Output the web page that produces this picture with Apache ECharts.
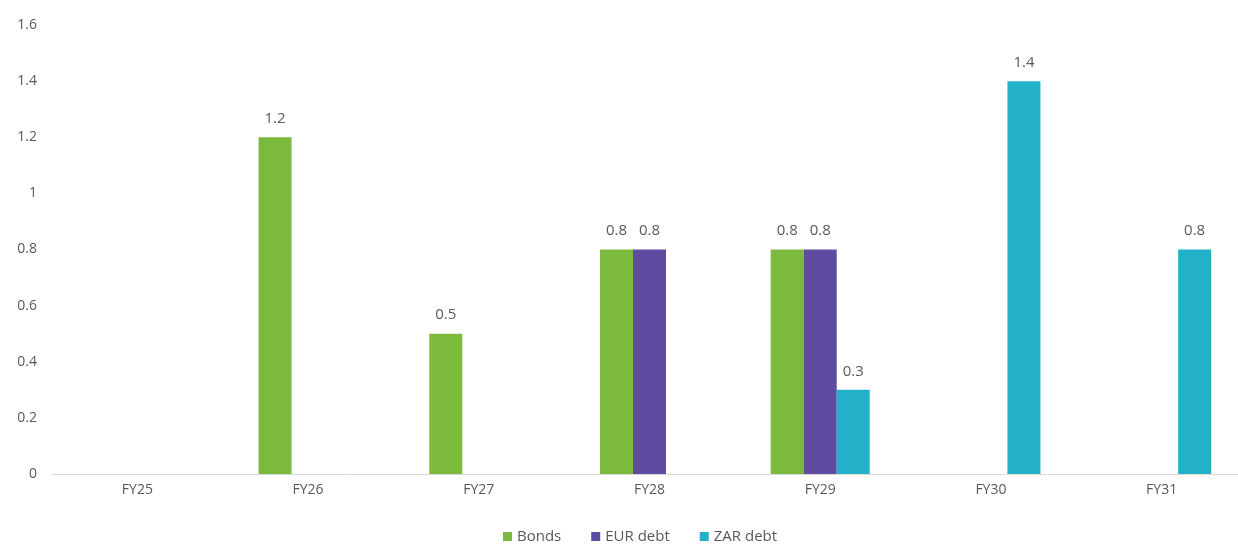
<!DOCTYPE html>
<html><head><meta charset="utf-8">
<script src="https://cdn.jsdelivr.net/npm/echarts@6/dist/echarts.min.js"></script>
<style>html,body{margin:0;padding:0;background:#fff}#c{width:1238px;height:545px}</style>
</head><body><div id="c"></div>
<script>
const categories = ['FY25','FY26','FY27','FY28','FY29','FY30','FY31'];
const bonds = [null, 1.2, 0.5, 0.8, 0.8, null, null];
const eurDebt = [null, null, null, 0.8, 0.8, null, null];
const zarDebt = [null, null, null, null, 0.3, 1.4, 0.8];
const yTicks = [0, 0.2, 0.4, 0.6, 0.8, 1, 1.2, 1.4, 1.6];

const font = '"Open Sans", sans-serif';
const lbl = {show:true, position:'top', color:'#595959', fontSize:15, fontFamily:font, distance:11};
const chart = echarts.init(document.getElementById('c'));
chart.setOption({
  animation:false,
  grid:{left:52, width:1195, top:25, bottom:71, containLabel:false, outerBoundsMode:'none'},
  legend:{bottom:-4, left:498, itemWidth:9, itemHeight:9, itemGap:30, icon:'rect',
    textStyle:{color:'#595959', fontSize:15, fontFamily:font}},
  xAxis:{type:'category', data:categories,
    axisLine:{lineStyle:{color:'#d9d9d9'}}, axisTick:{show:false},
    axisLabel:{color:'#595959', fontSize:14, fontFamily:font, margin:9}},
  yAxis:{type:'value', min:0, max:1.6, interval:0.2, splitLine:{show:false},
    axisLabel:{color:'#595959', fontSize:14, fontFamily:font, margin:15,
      formatter:v=>String(yTicks.find(t=>Math.abs(t-v)<1e-9) ?? v)}},
  series:[
    {name:'Bonds', type:'bar', data:bonds, itemStyle:{color:'#7cba3d'}, barGap:'0%', barCategoryGap:'42%', label:lbl},
    {name:'EUR debt', type:'bar', data:eurDebt, itemStyle:{color:'#5f4ba0'}, label:lbl},
    {name:'ZAR debt', type:'bar', data:zarDebt, itemStyle:{color:'#22b1c9'}, label:lbl}
  ]
});
</script></body></html>
